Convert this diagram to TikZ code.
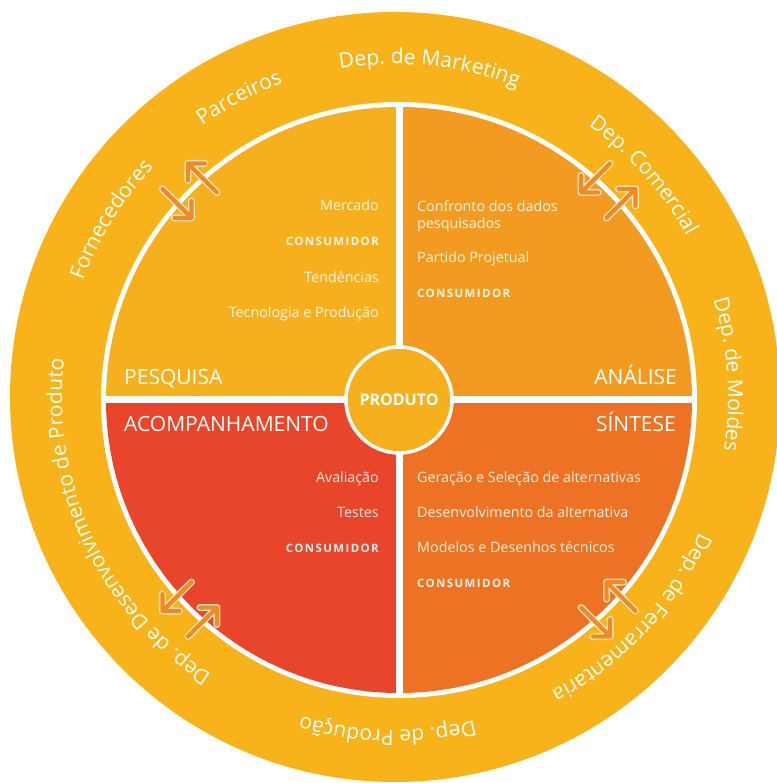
\documentclass[tikz,border=0pt]{standalone}
\usepackage{fontspec}
\setmainfont{Open Sans}
\usetikzlibrary{calc,decorations.text}
\definecolor{ringc}{HTML}{F8B31A}
\definecolor{cpes}{HTML}{F6AF1D}
\definecolor{cana}{HTML}{F39A21}
\definecolor{csin}{HTML}{EE7223}
\definecolor{cacp}{HTML}{E9452A}
\definecolor{arrowc}{HTML}{F08A28}
\definecolor{arrowe}{HTML}{FCE6BC}
\newcommand\consword{{\fontsize{11.5}{12}\selectfont\bfseries\addfontfeatures{LetterSpace=12}CONSUMIDOR}}
\tikzset{
  titlestyle/.style={text=white, inner sep=0pt, font=\fontsize{21}{21}\selectfont},
  itemstyle/.style={text=white, text opacity=0.9, inner sep=0pt, font=\fontsize{14.3}{16}\selectfont},
  ringtext/.style={decorate, decoration={text along path, text align=center, text color=white,
     text={|\fontsize{21}{21}\selectfont|#1}}},
  arrowout/.style={line width=7pt, draw=arrowe, line cap=round, line join=round},
  arrowin/.style={line width=4.2pt, draw=arrowc, line cap=round, line join=round}
}
\begin{document}
\begin{tikzpicture}[x=1pt,y=1pt]
\useasboundingbox (0,0) rectangle (776,783);
\coordinate (O) at (395,386);
\coordinate (I) at (399,383);
% outer ring
\fill[ringc] (O) circle[radius=385];
\fill[white] (I) circle[radius=298];
% quadrants
\fill[cpes] (I) -- ++(90:293) arc[start angle=90,end angle=180,radius=293] -- cycle;
\fill[cana] (I) -- ++(0:293) arc[start angle=0,end angle=90,radius=293] -- cycle;
\fill[csin] (I) -- ++(-90:293) arc[start angle=-90,end angle=0,radius=293] -- cycle;
\fill[cacp] (I) -- ++(180:293) arc[start angle=180,end angle=270,radius=293] -- cycle;
\draw[white, line width=7pt] ($(I)+(0,-296)$) -- ($(I)+(0,296)$);
\draw[white, line width=7pt] ($(I)+(-296,0)$) -- ($(I)+(296,0)$);
% centre
\node[circle, fill=cpes, draw=white, line width=3.5pt, minimum size=106pt, inner sep=0pt,
      text=white, font=\fontsize{16}{16}\selectfont\bfseries] (prod) at (I) {PRODUTO};
% titles
\node[titlestyle, anchor=base west] (pesq) at (124,398) {PESQUISA};
\node[titlestyle, anchor=base east] (anal) at (677,398) {ANÁLISE};
\node[titlestyle, anchor=base west] (acomp) at (124,351) {ACOMPANHAMENTO};
\node[titlestyle, anchor=base east] (sint) at (676,351) {SÍNTESE};
% items pesquisa
\node[itemstyle, anchor=base east] (p1) at (379,572) {Mercado};
\node[itemstyle, anchor=base east] (p2) at (379,537) {\consword};
\node[itemstyle, anchor=base east] (p3) at (379,500) {Tendências};
\node[itemstyle, anchor=base east] (p4) at (379,465) {Tecnologia e Produção};
% items analise
\node[itemstyle, anchor=base west] (a1) at (417,571) {Confronto dos dados};
\node[itemstyle, anchor=base west] (a1b) at (417,554) {pesquisados};
\node[itemstyle, anchor=base west] (a2) at (417,520) {Partido Projetual};
\node[itemstyle, anchor=base west] (a3) at (417,485) {\consword};
% items acompanhamento
\node[itemstyle, anchor=base east] (c1) at (379,300) {Avaliação};
\node[itemstyle, anchor=base east] (c2) at (379,265) {Testes};
\node[itemstyle, anchor=base east] (c3) at (379,230) {\consword};
% items sintese
\node[itemstyle, anchor=base west] (s1) at (417,300) {Geração e Seleção de alternativas};
\node[itemstyle, anchor=base west] (s2) at (417,265) {Desenvolvimento da alternativa};
\node[itemstyle, anchor=base west] (s3) at (417,230) {Modelos e Desenhos técnicos};
\node[itemstyle, anchor=base west] (s4) at (417,195) {\consword};
% ring texts
\path[ringtext={Dep. de Marketing}] ([shift={(144:333)}]O) arc[start angle=144,end angle=24,radius=333];
\path[ringtext={Parceiros}] ([shift={(177.5:333)}]O) arc[start angle=177.5,end angle=57.5,radius=333];
\path[ringtext={Fornecedores}] ([shift={(208:333)}]O) arc[start angle=208,end angle=88,radius=333];
\path[ringtext={Dep. Comercial}] ([shift={(101.7:333)}]O) arc[start angle=101.7,end angle=-18.3,radius=333];
\path[ringtext={Dep. de Moldes}] ([shift={(63.9:333)}]O) arc[start angle=63.9,end angle=-56.1,radius=333];
\path[ringtext={Dep. de Ferramentaria}] ([shift={(27:333)}]O) arc[start angle=27,end angle=-113,radius=333];
\path[ringtext={Dep. de Produção}] ([shift={(-21.3:333)}]O) arc[start angle=-21.3,end angle=-161.3,radius=333];
\path[ringtext={Dep. de Desenvolvimento de Produto}] ([shift={(-75:333)}]O) arc[start angle=-75,end angle=-235,radius=333];
% arrows
\foreach \a in {135,45,-45,-135}{
  \coordinate (P) at ($(I)+(\a:296)$);
  \coordinate (ot) at ($(P)+(\a-90:18)+(\a:-20.5)$);
  \coordinate (oh) at ($(P)+(\a-90:18)+(\a:20.5)$);
  \coordinate (oa1) at ($(oh)+(\a+180+45:17)$);
  \coordinate (oa2) at ($(oh)+(\a+180-45:17)$);
  \coordinate (it) at ($(P)+(\a+90:18)+(\a:20.5)$);
  \coordinate (ih) at ($(P)+(\a+90:18)+(\a:-20.5)$);
  \coordinate (ia1) at ($(ih)+(\a+45:17)$);
  \coordinate (ia2) at ($(ih)+(\a-45:17)$);
  \draw[arrowout] (ot) -- (oh) (oa1) -- (oh) -- (oa2);
  \draw[arrowin] (ot) -- (oh) (oa1) -- (oh) -- (oa2);
  \draw[arrowout] (it) -- (ih) (ia1) -- (ih) -- (ia2);
  \draw[arrowin] (it) -- (ih) (ia1) -- (ih) -- (ia2);
}
\end{tikzpicture}
\end{document}
